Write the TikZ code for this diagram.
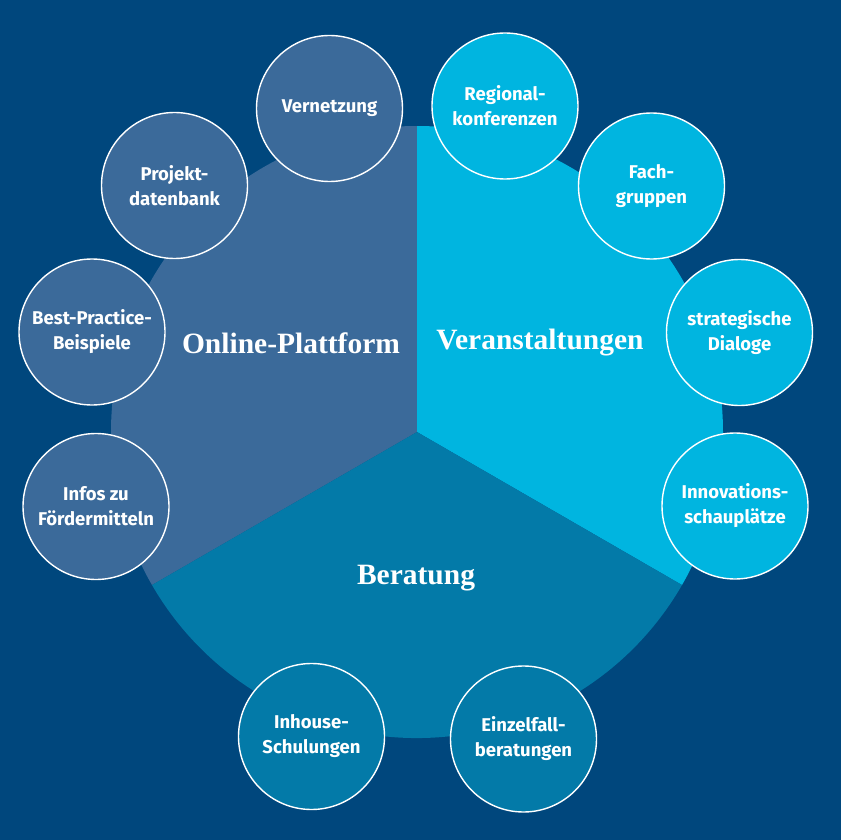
\documentclass[tikz,border=0pt]{standalone}
\usepackage{fontspec}
\setmainfont{Liberation Serif}
\newfontfamily\pBubbleFont{Fira Sans}
\definecolor{pBg}{RGB}{0,71,125}
\definecolor{pOnline}{RGB}{59,106,154}
\definecolor{pEvents}{RGB}{0,181,224}
\definecolor{pAdvice}{RGB}{3,122,168}
\newcommand{\pRad}{306}

\begin{document}
\begin{tikzpicture}[x=1pt,y=-1pt,
  bubble/.style={circle, draw=white, line width=1.4pt, minimum size=146pt, inner sep=0pt, align=center, text=white, font=\pBubbleFont\bfseries\fontsize{18.5}{25}\selectfont},
  sector/.style={inner sep=0pt, text=white, font=\bfseries\fontsize{29.5}{32}\selectfont}]
\fill[pBg] (0,0) rectangle (841,840);
\useasboundingbox (0,0) rectangle (841,840);
\coordinate (centre) at (417,432);
\fill[pOnline] (centre) -- ++(-90:\pRad) arc[start angle=-90, end angle=-210, radius=\pRad] -- cycle;
\fill[pEvents] (centre) -- ++(-90:\pRad) arc[start angle=-90, end angle=30, radius=\pRad] -- cycle;
\fill[pAdvice] (centre) -- ++(30:\pRad) arc[start angle=30, end angle=150, radius=\pRad] -- cycle;
\node[sector] (online) at (291,343) {Online-Plattform};
\node[sector] (events) at (540,343) {Veranstaltungen};
\node[sector] (advice) at (416,578) {Beratung};
\node[bubble, fill=pOnline] (vernetzung) at (329.5,108.5) {Vernetzung};
\node[bubble, fill=pOnline] (projekt) at (174.5,185.5) {Projekt-\\datenbank};
\node[bubble, fill=pOnline] (bestpractice) at (92,332) {Best-Practice-\\Beispiele};
\node[bubble, fill=pOnline] (foerder) at (96,506.5) {Infos zu\\Fördermitteln};
\node[bubble, fill=pEvents] (regional) at (505,106) {Regional-\\konferenzen};
\node[bubble, fill=pEvents] (fach) at (651.5,186) {Fach-\\gruppen};
\node[bubble, fill=pEvents] (dialoge) at (739.5,332.5) {strategische\\Dialoge};
\node[bubble, fill=pEvents] (innovation) at (735,506) {Innovations-\\schauplätze};
\node[bubble, fill=pAdvice] (inhouse) at (311.5,736.5) {Inhouse-\\Schulungen};
\node[bubble, fill=pAdvice] (einzelfall) at (523.5,739) {Einzelfall-\\beratungen};
\end{tikzpicture}
\end{document}
